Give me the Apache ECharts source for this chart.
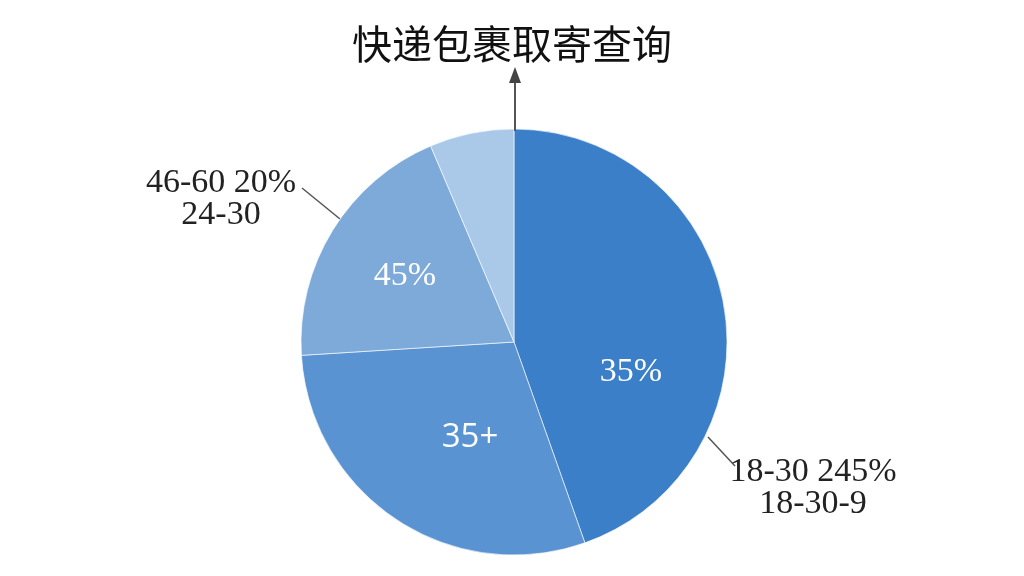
<!DOCTYPE html>
<html><head><meta charset="utf-8">
<script src="https://cdn.jsdelivr.net/npm/echarts@6/dist/echarts.min.js"></script>
<style>html,body{margin:0;padding:0;background:#fff}#c{width:1024px;height:576px}</style>
</head><body><div id="c"></div>
<script>
const titleText = '快递包裹取寄查询';
const categories = ['18-30', '35+', '46-60', '24-30'];
const values = [44.6, 29.4, 19.6, 6.4];
const innerLabels = ['35%', '35+', '45%', ''];
const outerLabels = ['18-30 245%\n18-30-9', '', '46-60 20%\n24-30', ''];
const colors = ['#3a7fc8', '#5a93d1', '#7eaada', '#aac9e9'];

const innerFonts = ['Liberation Serif', 'Open Sans', 'Liberation Serif', 'Liberation Serif'];
const innerSizes = [34, 33, 34, 34];
const data = categories.map((c, i) => ({name: c, value: values[i], itemStyle: {color: colors[i]},
  label: {fontFamily: innerFonts[i], fontSize: innerSizes[i]}}));
const innerPos = [[631, 372], [470, 438], [405, 276], [0, 0]];
const outerPos = [[813, 488, [[708, 437], [735, 466]]], null, [221, 199, [[302, 188], [340, 219]]], null];

const chart = echarts.init(document.getElementById('c'));
chart.setOption({
  backgroundColor: '#ffffff',
  animation: false,
  title: {text: titleText, left: 'center', top: 19,
    textStyle: {fontFamily: 'Noto Sans CJK SC', fontSize: 40, fontWeight: 400, color: '#111'}},
  graphic: [
    {type: 'line', shape: {x1: 515, y1: 131, x2: 515, y2: 80}, style: {stroke: '#555', lineWidth: 2}, z: 10},
    {type: 'polygon', shape: {points: [[515, 67], [509, 83], [521, 83]]}, style: {fill: '#444'}, z: 10}
  ],
  series: [
    {
      type: 'pie', center: [514, 342], radius: 213, startAngle: 90, clockwise: true,
      data: data,
      itemStyle: {borderColor: 'rgba(255,255,255,0.6)', borderWidth: 1},
      label: {show: true, position: 'inside', color: '#fff', fontFamily: 'Liberation Serif', fontSize: 34,
        formatter: p => innerLabels[p.dataIndex]},
      labelLine: {show: false},
      labelLayout: p => {
        const q = innerPos[p.dataIndex];
        return {x: q[0], y: q[1], align: 'center', verticalAlign: 'middle'};
      },
      silent: true
    },
    {
      type: 'pie', center: [514, 342], radius: 213, startAngle: 90, clockwise: true,
      data: categories.map((c, i) => ({name: c, value: values[i]})),
      itemStyle: {color: 'rgba(0,0,0,0)'},
      label: {show: true, position: 'outside', color: '#222', fontFamily: 'Liberation Serif', fontSize: 34,
        lineHeight: 32, align: 'center', formatter: p => outerLabels[p.dataIndex]},
      labelLine: {show: true, lineStyle: {color: '#555', width: 1.5}},
      labelLayout: p => {
        const q = outerPos[p.dataIndex];
        if (!q) return {x: -500, y: -500, labelLinePoints: [[-500, -500], [-500, -500], [-500, -500]]};
        return {x: q[0], y: q[1], align: 'center', verticalAlign: 'middle',
          labelLinePoints: [q[2][1], q[2][0], q[2][0]]};
      },
      silent: true
    }
  ]
});
</script></body></html>
